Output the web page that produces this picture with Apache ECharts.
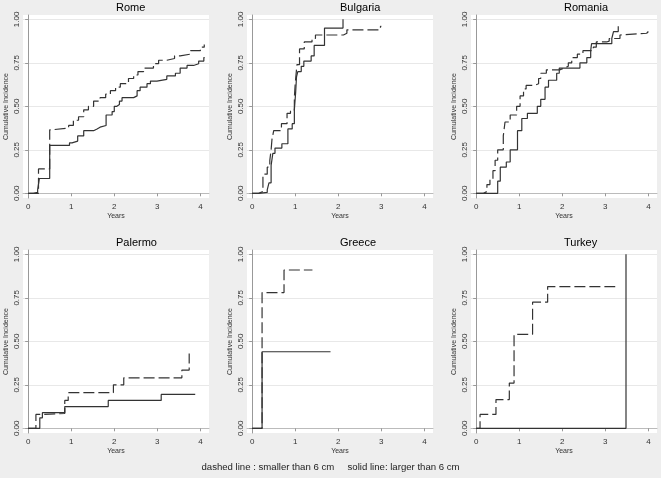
<!DOCTYPE html>
<html>
<head>
<meta charset="utf-8">
<script src="https://cdn.jsdelivr.net/npm/echarts@6/dist/echarts.min.js"></script>
<style>
html,body{margin:0;padding:0;background:#eeeeee;}
#chart{width:661px;height:478px;}
</style>
</head>
<body>
<div id="chart"></div>
<script>
// ---- Data ----
const panelNames = ['Rome', 'Bulgaria', 'Romania', 'Palermo', 'Greece', 'Turkey'];
const xTicks = [0, 1, 2, 3, 4];
const yTicks = [0, 0.25, 0.5, 0.75, 1.0];
const legendText = 'dashed line : smaller than 6 cm     solid line: larger than 6 cm';

const romeSolid = [[0,0],[0.12,0.005],[0.22,0.02],[0.26,0.085],[0.5,0.275],[0.96,0.29],[1.02,0.30],[1.15,0.33],[1.29,0.36],[1.52,0.37],[1.6,0.38],[1.67,0.39],[1.81,0.45],[1.95,0.47],[2.0,0.50],[2.06,0.51],[2.12,0.53],[2.18,0.55],[2.45,0.56],[2.53,0.59],[2.6,0.61],[2.76,0.63],[2.84,0.645],[2.99,0.655],[3.22,0.675],[3.42,0.69],[3.53,0.72],[3.69,0.735],[3.84,0.745],[3.96,0.76],[4.08,0.78],[4.1,0.78]];
const romeDashed = [[0,0],[0.24,0.14],[0.5,0.365],[0.55,0.375],[0.94,0.39],[1.05,0.42],[1.17,0.44],[1.29,0.48],[1.4,0.5],[1.52,0.53],[1.67,0.55],[1.8,0.57],[1.91,0.59],[2.03,0.61],[2.14,0.63],[2.33,0.66],[2.45,0.68],[2.55,0.70],[2.68,0.72],[2.91,0.745],[3.03,0.765],[3.22,0.775],[3.4,0.79],[3.53,0.80],[3.77,0.82],[4.0,0.84],[4.09,0.855],[4.1,0.855]];

const bulgariaSolid = [[0,0],[0.15,0.005],[0.35,0.02],[0.39,0.06],[0.44,0.16],[0.48,0.23],[0.53,0.26],[0.69,0.285],[0.83,0.37],[0.93,0.40],[0.98,0.48],[1.01,0.58],[1.03,0.67],[1.06,0.70],[1.14,0.73],[1.2,0.76],[1.37,0.79],[1.44,0.85],[1.68,0.95],[2.11,1.0]];
const bulgariaDashed = [[0,0],[0.15,0.01],[0.25,0.11],[0.35,0.15],[0.41,0.19],[0.44,0.25],[0.46,0.31],[0.5,0.36],[0.68,0.40],[0.81,0.46],[0.89,0.48],[0.98,0.55],[1.0,0.63],[1.04,0.74],[1.1,0.83],[1.21,0.87],[1.39,0.89],[1.47,0.91],[2.12,0.92],[2.2,0.94],[2.98,0.96],[3.0,0.96]];

const romaniaSolid = [[0,0],[0.5,0.07],[0.56,0.15],[0.7,0.18],[0.79,0.25],[0.96,0.36],[1.06,0.43],[1.19,0.46],[1.42,0.50],[1.5,0.54],[1.6,0.61],[1.68,0.65],[1.87,0.69],[1.93,0.72],[2.41,0.75],[2.57,0.78],[2.66,0.82],[2.68,0.86],[3.15,0.89],[3.19,0.93],[3.3,0.96]];
const romaniaDashed = [[0,0],[0.17,0.01],[0.25,0.05],[0.32,0.08],[0.39,0.13],[0.44,0.19],[0.5,0.25],[0.63,0.33],[0.67,0.41],[0.79,0.45],[0.94,0.50],[1.02,0.56],[1.1,0.60],[1.16,0.62],[1.35,0.63],[1.45,0.66],[1.5,0.69],[1.63,0.71],[1.95,0.72],[2.04,0.73],[2.14,0.75],[2.22,0.78],[2.35,0.80],[2.48,0.82],[2.72,0.84],[2.79,0.87],[3.03,0.875],[3.09,0.89],[3.34,0.91],[3.38,0.92],[3.96,0.93],[4.0,0.93]];

const palermoSolid = [[0,0],[0.27,0.06],[0.33,0.09],[0.85,0.125],[1.86,0.16],[3.09,0.195],[3.88,0.195]];
const palermoDashed = [[0,0],[0.18,0.08],[0.35,0.085],[0.85,0.16],[0.93,0.205],[1.98,0.25],[2.22,0.29],[3.57,0.335],[3.74,0.43]];

const greeceSolid = [[0,0],[0.23,0.44],[1.82,0.44]];
const greeceDashed = [[0,0],[0.23,0.78],[0.74,0.91],[1.4,0.91]];

const turkeySolid = [[0,0],[3.48,1.0]];
const turkeyDashed = [[0,0],[0.09,0.08],[0.46,0.165],[0.77,0.26],[0.88,0.54],[1.31,0.725],[1.66,0.815],[3.23,0.815]];

const solidSets = [romeSolid, bulgariaSolid, romaniaSolid, palermoSolid, greeceSolid, turkeySolid];
const dashedSets = [romeDashed, bulgariaDashed, romaniaDashed, palermoDashed, greeceDashed, turkeyDashed];

// ---- Layout ----
const colLefts = [23, 247, 471];
const rowTops = [15, 250];
const gridW = 186, gridH = 183;

const chart = echarts.init(document.getElementById('chart'), null, {renderer: 'canvas'});
const grids = [], xAxes = [], yAxes = [], series = [], graphics = [];
const FONT = 'Liberation Sans, Arial, sans-serif';

for (let i = 0; i < 6; i++) {
  const col = i % 3, row = Math.floor(i / 3);
  const left = colLefts[col], top = rowTops[row];
  grids.push({left: left, top: top, width: gridW, height: gridH, show: true,
    backgroundColor: '#ffffff', borderWidth: 0, containLabel: false});
  xAxes.push({
    type: 'value', gridIndex: i, min: -0.12, max: 4.2,
    name: 'Years', nameLocation: 'middle', nameGap: 15,
    nameTextStyle: {fontSize: 7, color: '#333', fontFamily: FONT},
    axisLine: {show: true, lineStyle: {color: '#bbbbbb', width: 1}},
    axisTick: {show: true, length: 3, inside: false, customValues: xTicks, lineStyle: {color: '#999'}},
    axisLabel: {customValues: xTicks, fontSize: 8, color: '#333', margin: 5, fontFamily: FONT},
    splitLine: {show: false}
  });
  yAxes.push({
    type: 'value', gridIndex: i, min: -0.027, max: 1.025,
    name: 'Cumulative Incidence', nameLocation: 'middle', nameGap: 13, nameRotate: 90,
    nameTextStyle: {fontSize: 7, color: '#333', fontFamily: FONT},
    axisLine: {show: true, lineStyle: {color: '#999999', width: 1}},
    axisTick: {show: true, length: 3, customValues: yTicks, lineStyle: {color: '#999'}},
    axisLabel: {customValues: yTicks, rotate: 90, fontSize: 8, color: '#333', margin: 2,
      fontFamily: FONT, formatter: v => v.toFixed(2)},
    splitLine: {show: true, lineStyle: {color: '#e8e8e8', width: 1}}
  });
  series.push({
    type: 'line', xAxisIndex: i, yAxisIndex: i, step: 'end', symbol: 'none',
    data: solidSets[i], lineStyle: {color: '#333333', width: 1.2, type: 'solid'}, silent: true,
    animation: false
  });
  series.push({
    type: 'line', xAxisIndex: i, yAxisIndex: i, step: 'end', symbol: 'none',
    data: dashedSets[i], lineStyle: {color: '#333333', width: 1.2, type: [11, 4]}, silent: true,
    animation: false
  });
  graphics.push({
    type: 'text', left: left + gridW / 2, top: top - 13,
    style: {text: panelNames[i], fontSize: 11, fill: '#000', font: '11px ' + FONT, textAlign: 'center'}
  });
}
graphics.push({
  type: 'text', left: 'center', top: 462,
  style: {text: legendText, fill: '#222', font: '9.6px ' + FONT}
});

chart.setOption({
  backgroundColor: '#eeeeee',
  animation: false,
  grid: grids, xAxis: xAxes, yAxis: yAxes, series: series, graphic: graphics
});
</script>
</body>
</html>
